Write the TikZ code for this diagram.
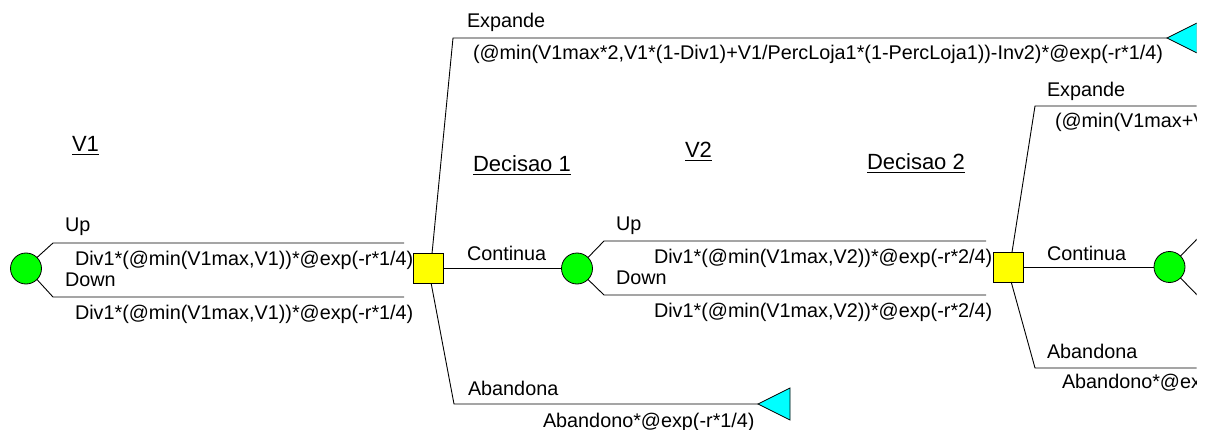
\documentclass[tikz,border=0pt]{standalone}
\usepackage{fontspec}
\setmainfont{Liberation Sans}
\definecolor{chgreen}{RGB}{0,255,0}
\definecolor{decyellow}{RGB}{255,255,0}
\definecolor{termcyan}{RGB}{0,255,255}
\begin{document}
\begin{tikzpicture}[x=1pt,y=-1pt,
  every node/.style={inner sep=0pt, outer sep=0pt},
  chance/.style={circle, draw=black, fill=chgreen, minimum size=31pt, line width=0.8pt},
  decision/.style={rectangle, draw=black, fill=decyellow, minimum size=30pt, line width=0.8pt},
  terminal/.style={draw=black, fill=termcyan, line width=0.8pt, line join=miter},
  branch/.style={draw=black, line width=0.9pt},
  lbl/.style={anchor=base west, font=\fontsize{19.8}{22}\selectfont},
  ttl/.style={anchor=base west, font=\fontsize{22}{24}\selectfont},
  uline/.style={draw=black, line width=1pt}
]
\useasboundingbox (0,0) rectangle (1206,430);
\begin{scope}
\clip (0,0) rectangle (1196.5,430);
% coordinates
\coordinate (u1a) at (53,243);   \coordinate (u1b) at (404,243);
\coordinate (dn1a) at (53,297);  \coordinate (dn1b) at (404,297);
\coordinate (e1a) at (453,38);   \coordinate (t1) at (1167,38);
\coordinate (a1a) at (454,404);  \coordinate (t2) at (758,404);
\coordinate (u2a) at (604,241);  \coordinate (u2b) at (986,241);
\coordinate (dn2a) at (604,295); \coordinate (dn2b) at (986,295);
\coordinate (e2a) at (1035,106); \coordinate (e2b) at (1210,106);
\coordinate (a2a) at (1035,368); \coordinate (a2b) at (1210,368);
\coordinate (c3u) at (1200,236); \coordinate (c3d) at (1200,298);
% nodes
\node[chance] (c1) at (26,268.5) {};
\node[decision] (d1) at (428,268.5) {};
\node[chance] (c2) at (577,268.5) {};
\node[decision] (d2) at (1008,267) {};
\node[chance] (c3) at (1169.5,267) {};
% connectors
\draw[branch] (c1.45) -- (u1a) -- (u1b);
\draw[branch] (c1.-45) -- (dn1a) -- (dn1b);
\draw[branch] (d1.75) -- (e1a) -- (t1);
\draw[branch] (d1.east) -- (c2.west);
\draw[branch] (d1.-78) -- (a1a) -- (t2);
\draw[branch] (c2.45) -- (u2a) -- (u2b);
\draw[branch] (c2.-45) -- (dn2a) -- (dn2b);
\draw[branch] (d2.75) -- (e2a) -- (e2b);
\draw[branch] (d2.east) -- (c3.west);
\draw[branch] (d2.-78) -- (a2a) -- (a2b);
\draw[branch] (c3.45) -- (c3u);
\draw[branch] (c3.-45) -- (c3d);
% terminals
\draw[terminal] (t1) -- ++(30,-15) -- ++(0,30) -- cycle;
\draw[terminal] (t2) -- ++(32,-16) -- ++(0,32) -- cycle;
% titles
\node[ttl] (tv1) at (72,152) {V1};
\node[ttl] (td1) at (473,172) {Decisao 1};
\node[ttl] (tv2) at (685,158) {V2};
\node[ttl] (td2) at (867,170) {Decisao 2};
\foreach \n in {tv1,td1,tv2,td2}{
  \draw[uline] ([yshift=-2.5pt]\n.base west) -- ([yshift=-2.5pt]\n.base east);
}
% branch labels
\node[lbl] (lu1) at (65,232) {Up};
\node[lbl] (fu1) at (75,265) {Div1*(@min(V1max,V1))*@exp(-r*1/4)};
\node[lbl] (ld1) at (65,286) {Down};
\node[lbl] (fd1) at (75,319) {Div1*(@min(V1max,V1))*@exp(-r*1/4)};
\node[lbl] (le1) at (467,28) {Expande};
\node[lbl] (fe1) at (473,60) {(@min(V1max*2,V1*(1-Div1)+V1/PercLoja1*(1-PercLoja1))-Inv2)*@exp(-r*1/4)};
\node[lbl] (lc1) at (467,260) {Continua};
\node[lbl] (la1) at (468,395) {Abandona};
\node[lbl] (fa1) at (543,427) {Abandono*@exp(-r*1/4)};
\node[lbl] (lu2) at (616,230) {Up};
\node[lbl] (fu2) at (654,263) {Div1*(@min(V1max,V2))*@exp(-r*2/4)};
\node[lbl] (ld2) at (616,284) {Down};
\node[lbl] (fd2) at (654,317) {Div1*(@min(V1max,V2))*@exp(-r*2/4)};
\node[lbl] (le2) at (1047,97) {Expande};
\node[lbl] (fe2) at (1055,128) {(@min(V1max+V};
\node[lbl] (lc2) at (1047,260) {Continua};
\node[lbl] (la2) at (1047,358) {Abandona};
\node[lbl] (fa2) at (1062,388) {Abandono*@exp};
\end{scope}
\end{tikzpicture}
\end{document}
